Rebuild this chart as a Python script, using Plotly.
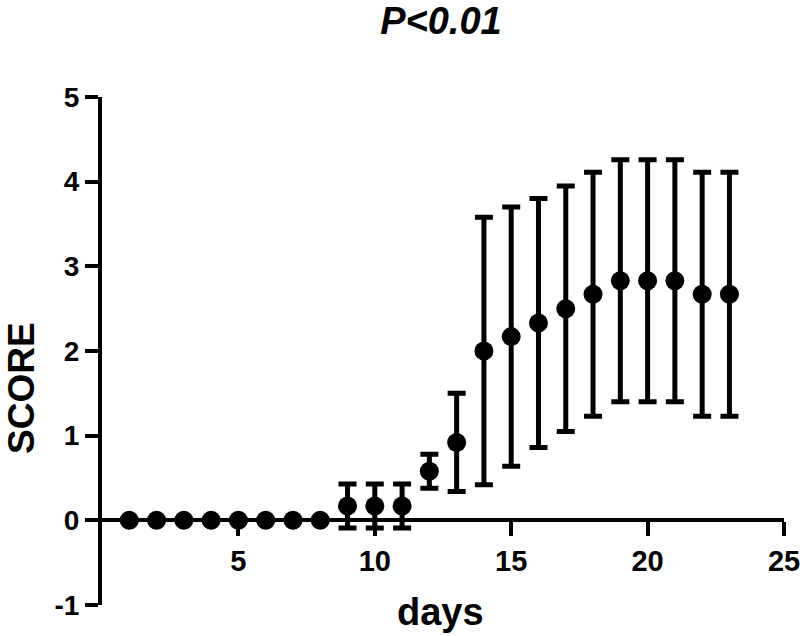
import plotly.graph_objects as go

days = list(range(1, 24))
score_mean = [0, 0, 0, 0, 0, 0, 0, 0,
              0.17, 0.17, 0.17, 0.58, 0.92, 2.00, 2.17, 2.33,
              2.50, 2.67, 2.83, 2.83, 2.83, 2.67, 2.67]
score_err = [0, 0, 0, 0, 0, 0, 0, 0,
             0.26, 0.26, 0.26, 0.20, 0.58, 1.58, 1.53, 1.47,
             1.45, 1.44, 1.43, 1.43, 1.43, 1.44, 1.44]
x_ticks = [5, 10, 15, 20, 25]
y_ticks = [-1, 0, 1, 2, 3, 4, 5]
y_tick_labels = ["-1", "0", "1", "2", "3", "4", "5"]

FONT = "Liberation Sans, Arial, sans-serif"

W, H = 800, 636
L, T = 102, 97
PW, PH = 682, 508
R, B = W - L - PW, H - T - PH

fig = go.Figure()
fig.add_trace(go.Scatter(
    x=days, y=score_mean, mode="markers",
    marker=dict(color="black", size=19),
    error_y=dict(type="data", array=score_err, visible=True,
                 color="black", thickness=5, width=9),
    cliponaxis=False, showlegend=False,
))

fig.update_layout(
    width=W, height=H,
    margin=dict(l=L, r=R, t=T, b=B, autoexpand=False),
    plot_bgcolor="white", paper_bgcolor="white",
    title=dict(text="P<0.01", x=0.497, xref="paper", y=1 - 21 / H, yref="container",
               xanchor="center", yanchor="middle",
               font=dict(family=FONT, size=38, color="black", weight="bold", style="italic")),
    xaxis=dict(range=[0, 25], tickvals=x_ticks, showgrid=False, zeroline=False,
               showline=True, linecolor="black", linewidth=4,
               ticks="outside", ticklen=14, tickwidth=4, tickcolor="black",
               anchor="free", position=1 / 6, automargin=False,
               ticklabeloverflow="allow",
               tickfont=dict(family=FONT, size=29, color="black", weight="bold")),
    yaxis=dict(range=[-1, 5], tickvals=y_ticks, ticktext=y_tick_labels,
               showgrid=False, zeroline=False,
               showline=True, linecolor="black", linewidth=4,
               ticks="outside", ticklen=13, tickwidth=4, tickcolor="black",
               automargin=False, ticklabeloverflow="allow",
               tickfont=dict(family=FONT, size=28, color="black", weight="bold")),
    annotations=[
        dict(text="days", x=0.497, xref="paper", y=-7 / PH, yref="paper",
             xanchor="center", yanchor="middle", showarrow=False,
             font=dict(family=FONT, size=38, color="black", weight="bold")),
        dict(text="SCORE", x=(21 - L) / PW, xref="paper", y=(605 - 388) / PH, yref="paper",
             xanchor="center", yanchor="middle", showarrow=False, textangle=-90,
             font=dict(family=FONT, size=37, color="black", weight="bold")),
    ],
)

fig.write_html("out.html", config={"displayModeBar": False},
               post_script="document.body.style.margin='0px';")
